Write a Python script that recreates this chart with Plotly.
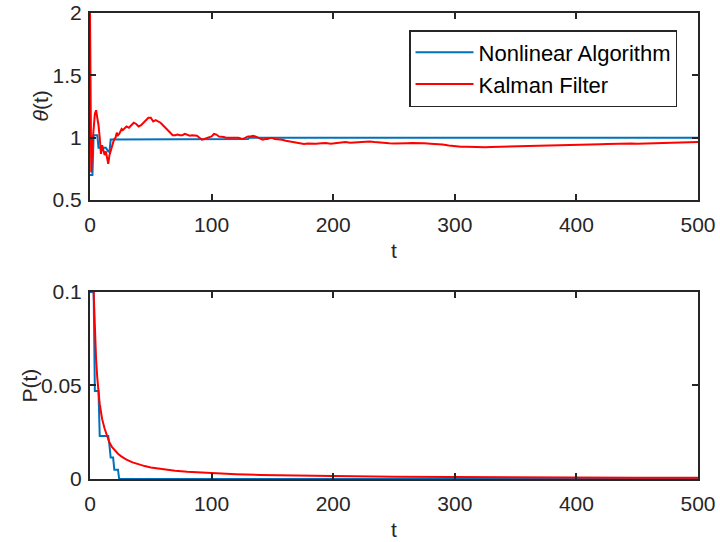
import plotly.graph_objects as go

# ---- data ----
# top panel: theta(t)
t_theta_na = [0, 2, 3, 6, 7, 13, 15, 16, 17, 21, 22, 130, 131, 500]
theta_na = [0.70, 0.70, 1.02, 1.02, 0.92, 0.92, 0.89, 0.885, 0.985, 0.985, 0.99, 0.99, 1.0, 1.0]

t_theta_kf = [0, 1, 2, 3, 4, 5, 6, 7, 8, 9, 10, 11, 12, 13, 14, 15, 16, 17, 18, 19, 20,
              21, 22, 23, 24, 25, 26, 27, 28, 29, 30, 32, 34, 36, 38, 40, 42, 44, 46, 48,
              50, 52, 54, 56, 58, 60, 62, 64, 66, 68, 70, 72, 74, 76, 78, 80, 82, 84, 86,
              88, 90, 92, 94, 96, 98, 100, 102, 104, 106, 108, 110, 112, 114, 116, 118,
              120, 122, 124, 126, 128, 130, 132, 134, 136, 138, 140, 142, 144, 146, 148,
              150, 152, 155, 158, 161, 164, 167, 170, 173, 176, 179, 182, 186, 190, 194,
              198, 202, 206, 210, 214, 218, 222, 226, 230, 234, 238, 242, 246, 250, 255,
              260, 265, 270, 275, 280, 285, 290, 295, 300, 305, 310, 315, 320, 325, 330,
              335, 340, 345, 350, 355, 360, 365, 370, 375, 380, 385, 390, 395, 400, 405,
              410, 415, 420, 425, 430, 435, 440, 445, 450, 455, 460, 465, 470, 475, 480,
              485, 490, 495, 500]
theta_kf = [2.0, 0.72, 0.95, 1.10, 1.19, 1.22, 1.16, 1.10, 1.00, 0.87, 0.94, 0.90, 0.86,
            0.89, 0.82, 0.79, 0.86, 0.90, 0.94, 0.96, 0.99, 1.00, 1.04, 1.02, 1.03, 1.05,
            1.07, 1.06, 1.07, 1.08, 1.09, 1.08, 1.10, 1.12, 1.11, 1.09, 1.10, 1.12, 1.14,
            1.16, 1.16, 1.13, 1.14, 1.13, 1.12, 1.10, 1.08, 1.06, 1.04, 1.02, 1.02, 1.025,
            1.02, 1.02, 1.03, 1.025, 1.015, 1.02, 1.02, 1.015, 1.00, 0.985, 0.99, 0.995,
            1.00, 1.01, 1.03, 1.025, 1.01, 1.01, 1.005, 1.0, 1.0, 0.995, 1.0, 0.997, 1.0,
            0.993, 0.99, 1.0, 1.01, 1.01, 1.015, 1.01, 1.0, 0.99, 0.984, 0.99, 0.99, 0.997,
            0.997, 0.99, 0.99, 0.984, 0.975, 0.97, 0.965, 0.958, 0.952, 0.95, 0.953, 0.95,
            0.952, 0.955, 0.957, 0.952, 0.958, 0.96, 0.965, 0.96, 0.963, 0.966, 0.968,
            0.97, 0.965, 0.96, 0.957, 0.955, 0.953, 0.952, 0.955, 0.957, 0.958, 0.956,
            0.952, 0.95, 0.945, 0.938, 0.932, 0.928, 0.927, 0.925, 0.926, 0.924, 0.926,
            0.927, 0.929, 0.927, 0.93, 0.932, 0.93, 0.932, 0.934, 0.935, 0.934, 0.937,
            0.939, 0.94, 0.942, 0.943, 0.945, 0.946, 0.948, 0.95, 0.952, 0.951, 0.952,
            0.953, 0.951, 0.952, 0.953, 0.955, 0.956, 0.957, 0.957, 0.956, 0.96, 0.963,
            0.965]

# bottom panel: P(t)
t_p_na = [0, 3, 4, 7, 8, 15, 16, 17, 19, 20, 23, 24, 500]
p_na = [0.1, 0.1, 0.047, 0.047, 0.023, 0.023, 0.018, 0.0115, 0.0115, 0.005, 0.005, 0.0, 0.0]

t_p_kf = [1, 2, 3, 4, 5, 6, 7, 8, 9, 10, 12, 14, 16, 18, 20, 23, 26, 30, 35, 40, 45, 50,
          60, 70, 80, 90, 100, 120, 140, 160, 180, 200, 250, 300, 350, 400, 450, 500]
p_kf = [0.31, 0.155, 0.1, 0.078, 0.064, 0.054, 0.046, 0.040, 0.036, 0.032, 0.027, 0.023,
        0.0195, 0.0172, 0.0155, 0.0135, 0.012, 0.0104, 0.0089, 0.0078, 0.0069, 0.0062,
        0.0052, 0.0044, 0.0039, 0.0035, 0.0031, 0.0026, 0.0022, 0.0019, 0.0017, 0.00155,
        0.00124, 0.00103, 0.00089, 0.00078, 0.00069, 0.00062]

x_ticks = [0, 100, 200, 300, 400, 500]
theta_ticks = [0.5, 1, 1.5, 2]
p_ticks = [0, 0.05, 0.1]
p_tick_text = ["0", "0.05", "0.1"]

# ---- style ----
BLUE = "#0072BD"
RED = "#FF0000"
AX = "#262626"
FONT = "Liberation Sans, Arial, Helvetica, sans-serif"
FS = 21

fig = go.Figure()
fig.add_trace(go.Scatter(x=t_theta_na, y=theta_na, mode="lines", name="Nonlinear Algorithm",
                         line=dict(color=BLUE, width=2), xaxis="x", yaxis="y"))
fig.add_trace(go.Scatter(x=t_theta_kf, y=theta_kf, mode="lines", name="Kalman Filter",
                         line=dict(color=RED, width=2), xaxis="x", yaxis="y"))
fig.add_trace(go.Scatter(x=t_p_na, y=p_na, mode="lines", showlegend=False,
                         line=dict(color=BLUE, width=2), xaxis="x2", yaxis="y2"))
fig.add_trace(go.Scatter(x=t_p_kf, y=p_kf, mode="lines", showlegend=False,
                         line=dict(color=RED, width=2), xaxis="x2", yaxis="y2"))

common = dict(showline=True, linecolor=AX, linewidth=2, mirror="allticks",
              ticks="inside", ticklen=6, tickwidth=1.5, tickcolor=AX,
              showgrid=False, zeroline=False, automargin=False,
              tickfont=dict(family=FONT, size=FS, color=AX))

fig.update_layout(
    width=720, height=542,
    margin=dict(l=90, r=22, t=13, b=63),
    plot_bgcolor="white", paper_bgcolor="white",
    font=dict(family=FONT, size=FS, color=AX),
    xaxis=dict(domain=[0, 1], range=[0, 500], tickvals=x_ticks, anchor="y",
               ticklabelstandoff=5, **common),
    yaxis=dict(domain=[0.5987, 1], range=[0.5, 2], tickvals=theta_ticks, anchor="x",
               ticklabelstandoff=2, **common),
    xaxis2=dict(domain=[0, 1], range=[0, 500], tickvals=x_ticks, anchor="y2",
                ticklabelstandoff=5, **common),
    yaxis2=dict(domain=[0, 0.4013], range=[0, 0.1], tickvals=p_ticks, ticktext=p_tick_text,
                anchor="x2", ticklabelstandoff=2, **common),
    legend=dict(x=0.5247, y=0.9635, xanchor="left", yanchor="top",
                bgcolor="white", bordercolor=AX, borderwidth=1.5,
                font=dict(family=FONT, size=22, color="black"),
                itemwidth=58, tracegroupgap=0),
    showlegend=True,
    annotations=[
        dict(text="<i>θ</i>(t)", xref="paper", yref="paper", x=-0.0822, y=0.7994,
             xanchor="center", yanchor="middle", textangle=-90, showarrow=False,
             font=dict(family=FONT, size=FS, color=AX)),
        dict(text="P(t)", xref="paper", yref="paper", x=-0.0987, y=0.2006,
             xanchor="center", yanchor="middle", textangle=-90, showarrow=False,
             font=dict(family=FONT, size=FS, color=AX)),
        dict(text="t", xref="paper", yref="paper", x=0.5, y=0.4914,
             xanchor="center", yanchor="middle", showarrow=False,
             font=dict(family=FONT, size=FS, color=AX)),
        dict(text="t", xref="paper", yref="paper", x=0.5, y=-0.1094,
             xanchor="center", yanchor="middle", showarrow=False,
             font=dict(family=FONT, size=FS, color=AX)),
    ],
)

fig.write_html("out.html")
